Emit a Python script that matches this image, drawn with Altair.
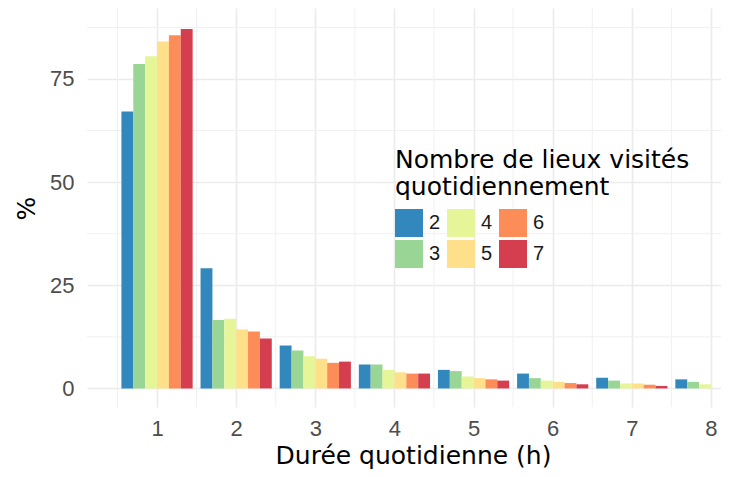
import altair as alt
import pandas as pd

hours = [1, 2, 3, 4, 5, 6, 7, 8]
series = ["2", "3", "4", "5", "6", "7"]
s2 = [67.1, 29.1, 10.4, 5.8, 4.5, 3.6, 2.6, 2.2]
s3 = [78.6, 16.6, 9.2, 5.8, 4.2, 2.5, 1.9, 1.6]
s4 = [80.5, 16.9, 7.8, 4.5, 2.9, 1.9, 1.2, 1.0]
s5 = [84.1, 14.3, 7.2, 3.9, 2.5, 1.6, 1.2, None]
s6 = [85.6, 13.8, 6.2, 3.6, 2.2, 1.3, 0.9, None]
s7 = [87.1, 12.1, 6.5, 3.6, 1.9, 1.0, 0.6, None]
colors = ["#3288BD", "#99D594", "#E6F598", "#FEE08B", "#FC8D59", "#D53E4F"]
x_ticks = [1, 2, 3, 4, 5, 6, 7, 8]
y_ticks = [0, 25, 50, 75]
x_minor = [0.5, 1.5, 2.5, 3.5, 4.5, 5.5, 6.5, 7.5]
y_minor = [12.5, 37.5, 62.5, 87.5]

vals = [s2, s3, s4, s5, s6, s7]
rows = []
for k, (name, arr) in enumerate(zip(series, vals)):
    for h, v in zip(hours, arr):
        if v is not None:
            rows.append({"h": h, "n": name, "k": k, "v": v})
df = pd.DataFrame(rows)

XD = [0.115, 8.127]
YD = [-4.5, 92.2]
xs = alt.Scale(domain=XD, nice=False, zero=False)
ys = alt.Scale(domain=YD, nice=False, zero=False)

minor_x = alt.Chart(pd.DataFrame({"x": x_minor})).mark_rule(
    color="#F0F0F0", strokeWidth=1
).encode(x=alt.X("x:Q", scale=xs, axis=None))
minor_y = alt.Chart(pd.DataFrame({"y": y_minor})).mark_rule(
    color="#F0F0F0", strokeWidth=1
).encode(y=alt.Y("y:Q", scale=ys, axis=None))

bars = alt.Chart(df).transform_calculate(
    x0="datum.h + (datum.k - 3) * 0.15",
    x1="datum.h + (datum.k - 2) * 0.15",
).mark_bar(opacity=1, strokeWidth=0).encode(
    x=alt.X(
        "x0:Q",
        scale=xs,
        axis=alt.Axis(
            values=x_ticks,
            title="Durée quotidienne (h)",
            grid=True,
            gridColor="#EBEBEB",
            gridWidth=1.6,
            ticks=False,
            domain=False,
            labelFontSize=22,
            labelColor="#4D4D4D",
            labelPadding=11,
            labelFont="Liberation Sans",
            titleFont="DejaVu Sans",
            titleFontSize=25,
            titleFontWeight="normal",
            titleColor="#000000",
            titleX=326,
            titleY=56,
            titleBaseline="alphabetic",
            titleAlign="center",
        ),
    ),
    x2="x1:Q",
    y=alt.Y(
        "v:Q",
        scale=ys,
        stack=None,
        axis=alt.Axis(
            values=y_ticks,
            title="%",
            grid=True,
            gridColor="#EBEBEB",
            gridWidth=1.6,
            ticks=False,
            domain=False,
            labelFontSize=22,
            labelColor="#4D4D4D",
            labelPadding=13,
            labelFont="Liberation Sans",
            titleFont="DejaVu Sans",
            titleFontSize=25,
            titleFontWeight="normal",
            titleColor="#000000",
            titleAngle=270,
            titleX=-61,
            titleY=200,
            titleAlign="center",
            titleBaseline="middle",
        ),
    ),
    y2=alt.datum(0),
    color=alt.Color(
        "n:N",
        scale=alt.Scale(domain=series, range=colors),
        legend=alt.Legend(
            title=["Nombre de lieux visités", "quotidiennement"],
            orient="none",
            legendX=308,
            legendY=140,
            columns=3,
            symbolType="square",
            symbolSize=784,
            symbolStrokeWidth=0,
            symbolOpacity=1,
            labelFontSize=20,
            labelFont="Liberation Sans",
            labelColor="#1A1A1A",
            labelOffset=6,
            columnPadding=6,
            rowPadding=3,
            titleFontSize=25,
            titleFont="DejaVu Sans",
            titleFontWeight="normal",
            titleColor="#000000",
            titleLineHeight=27,
            titlePadding=9,
            titleLimit=600,
            padding=0,
        ),
    ),
)

chart = alt.layer(minor_x, minor_y, bars).resolve_axis(
    x="independent", y="independent"
).properties(
    width=634,
    height=399,
    background="white",
    autosize=alt.AutoSizeParams(type="none"),
    padding={"left": 79, "top": 0, "right": 0, "bottom": 62},
).configure_view(strokeWidth=0)

chart.save("out.html", embed_options={"renderer": "svg", "actions": False})
